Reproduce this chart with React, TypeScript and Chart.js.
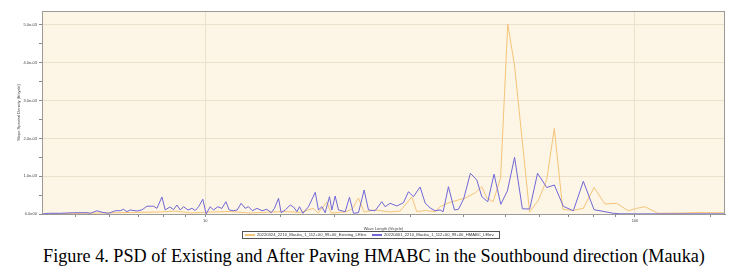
import React, { useEffect, useRef } from 'react';
import { Chart, registerables } from 'chart.js';
Chart.register(...registerables);

const existingLabel = '20220324_2210_Mauka_1_112+00_99+00_Existing_LElev.';
const hmabcLabel = '20220401_2210_Mauka_1_112+00_99+00_HMABC_LElev.';
const xTitle = 'Wave Length (ft/cycle)';
const yTitle = 'Slope Spectral Density (ft/cycle)';
const caption = 'Figure 4. PSD of Existing and After Paving HMABC in the Southbound direction (Mauka)';
const xTickLabels = [10, 100];
const yTickLabels = ['0.0e00', '1.0e-03', '2.0e-03', '3.0e-03', '4.0e-03', '5.0e-03'];

const hmabcWave = [
  4.17, 4.32, 4.6, 4.94, 5.31, 5.4, 5.6, 5.75, 5.96, 6.18,
  6.34, 6.46, 6.57, 6.69, 6.94, 7.13, 7.32, 7.58, 7.72, 7.93,
  8.07, 8.27, 8.44, 8.59, 8.75, 8.9, 9.12, 9.31, 9.48, 9.65,
  9.87, 10.05, 10.27, 10.45, 10.7, 10.93, 11.17, 11.37, 11.63, 11.87,
  12.12, 12.39, 12.61, 12.88, 13.19, 13.55, 13.91, 14.24, 14.49, 14.81,
  15.02, 15.35, 15.77, 16.05, 16.35, 16.57, 16.88, 17.39, 18.03, 18.34,
  18.68, 19.01, 19.46, 19.71, 20.06, 20.42, 21.17, 21.66, 22.13, 22.73,
  23.43, 23.98, 24.85, 25.76, 26.22, 26.93, 27.92, 28.93, 29.71, 30.51,
  31.62, 32.49, 33.37, 34.27, 35.2, 35.77, 36.81, 38.01, 38.83, 39.93,
  41.4, 42.85, 44.01, 45.45, 47.0, 48.72, 50.47, 52.46, 54.7, 56.9,
  59.33, 62.34, 64.92, 68.13, 71.87, 75.83, 80.31, 89.05, 92.28, 102.7,
  127.2, 161.9,
];
const hmabcPsd = [
  0, 0.19e-4, 0.19e-4, 0.34e-4, 0.34e-4, 0.19e-4, 0.85e-4, 0.45e-4, 0.19e-4, 0.87e-4,
  0.87e-4, 1.24e-4, 0.61e-4, 1.06e-4, 0.79e-4, 1.11e-4, 2.06e-4, 2.06e-4, 1.5e-4, 4.5e-4,
  1.06e-4, 1.85e-4, 1.19e-4, 2.38e-4, 1.06e-4, 1.93e-4, 1.06e-4, 1.5e-4, 0.93e-4, 1.93e-4,
  3.9e-4, 0, 1.93e-4, 1.06e-4, 1.93e-4, 1.46e-4, 3.25e-4, 1.06e-4, 0.87e-4, 1.06e-4,
  2.83e-4, 1.5e-4, 1.93e-4, 0.87e-4, 1.5e-4, 0.87e-4, 1.24e-4, 0.34e-4, 1.5e-4, 4.15e-4,
  0.34e-4, 1.06e-4, 2.38e-4, 1.85e-4, 0.61e-4, 1.93e-4, 0.19e-4, 1.93e-4, 5.74e-4, 1.06e-4,
  1.93e-4, 0.34e-4, 4.58e-4, 1.06e-4, 4.76e-4, 1.06e-4, 0.61e-4, 4.42e-4, 0.19e-4, 0.34e-4,
  6.35e-4, 1.06e-4, 0.87e-4, 3.25e-4, 1.93e-4, 2.83e-4, 2.12e-4, 2.99e-4, 5.9e-4, 4.58e-4,
  7.14e-4, 2.91e-4, 1.59e-4, 0.87e-4, 1.06e-4, 0.61e-4, 7.22e-4, 1.06e-4, 1.24e-4, 3.97e-4,
  10.77e-4, 9.0e-4, 4.58e-4, 3.25e-4, 10.53e-4, 2.57e-4, 6.08e-4, 15.0e-4, 1.38e-4, 1.32e-4,
  10.77e-4, 7.0e-4, 7.67e-4, 2.04e-4, 0.85e-4, 8.65e-4, 1.14e-4, 0.19e-4, 0.05e-4, 0.03e-4,
  0.04e-4, 0.03e-4,
];

const existingWave = [
  4.17, 4.85, 5.7, 6.69, 7.86, 8.51, 9.23, 10.27, 11.43, 12.73,
  14.16, 15.35, 16.64, 17.83, 18.32, 19.19, 19.63, 21.17, 21.98, 22.73,
  23.43, 24.85, 26.93, 28.41, 30.25, 31.07, 32.49, 34.27, 35.2, 36.74,
  38.76, 40.25, 42.46, 44.01, 45.2, 46.76, 48.67, 50.58, 52.46, 56.85,
  59.66, 62.34, 64.92, 67.91, 71.87, 75.83, 80.31, 85.16, 90.67, 96.47,
  100.9, 105.5, 113.1, 127.2, 141.6, 161.9,
];
const existingPsd = [
  0, 0.13e-4, 0.26e-4, 0.4e-4, 0.53e-4, 0.79e-4, 0.26e-4, 0.53e-4, 0.66e-4, 0.26e-4,
  0.53e-4, 0.66e-4, 0.4e-4, 1.5e-4, 0.26e-4, 3.17e-4, 0.26e-4, 0.53e-4, 1.32e-4, 4.23e-4,
  0.53e-4, 1.06e-4, 0.53e-4, 0.79e-4, 4.5e-4, 0.61e-4, 0.93e-4, 0.61e-4, 1.93e-4, 2.91e-4,
  3.7e-4, 4.23e-4, 5.56e-4, 7.22e-4, 4.23e-4, 3.25e-4, 9.5e-4, 50.26e-4, 39.15e-4, 0.5e-4,
  3.7e-4, 9.2e-4, 22.62e-4, 1.24e-4, 0.93e-4, 1.5e-4, 7.0e-4, 2.65e-4, 2.83e-4, 0.87e-4,
  1.5e-4, 1.93e-4, 0.19e-4, 0.26e-4, 0.4e-4, 0.3e-4,
];

const ORANGE = '#F5C57A';
const BLUE = '#7068D8';
const PLOT_BG = '#FDF5E5';
const GRID = '#ECE1CC';
const FONT = "'Liberation Sans', Arial, sans-serif";

const isXLabel = (v: number) => xTickLabels.some((t) => Math.abs(v - t) < 1e-6);

export default function App() {
  const ref = useRef<HTMLCanvasElement | null>(null);

  useEffect(() => {
    document.body.style.margin = '0';
    const canvas = ref.current;
    if (!canvas) return;

    const bgPlugin = {
      id: 'plotBg',
      beforeDraw(chart: any) {
        const { ctx, chartArea: a } = chart;
        ctx.save();
        ctx.fillStyle = PLOT_BG;
        ctx.fillRect(a.left, a.top, a.right - a.left, a.bottom - a.top);
        ctx.restore();
      },
      afterDatasetsDraw(chart: any) {
        const { ctx, chartArea: a } = chart;
        ctx.save();
        ctx.strokeStyle = '#9C9A96';
        ctx.lineWidth = 1;
        ctx.strokeRect(Math.round(a.left) + 0.5, Math.round(a.top) + 0.5, Math.round(a.right - a.left) - 1, Math.round(a.bottom - a.top));
        ctx.restore();
      },
    };

    const legendPlugin = {
      id: 'boxLegend',
      afterDraw(chart: any) {
        const { ctx } = chart;
        const x0 = 242, y0 = 231, w = 257, h = 7;
        ctx.save();
        ctx.fillStyle = '#FFFFFF';
        ctx.fillRect(x0, y0, w, h);
        ctx.strokeStyle = '#555';
        ctx.lineWidth = 1;
        ctx.strokeRect(x0 + 0.5, y0 + 0.5, w, h);
        ctx.font = `5px ${FONT}`;
        const m = ctx.measureText(existingLabel).width;
        const size = 5 * 110 / m;
        ctx.font = `${size}px ${FONT}`;
        ctx.textBaseline = 'middle';
        ctx.fillStyle = '#333';
        const cy = y0 + h / 2 + 0.5;
        ctx.lineWidth = 2;
        ctx.strokeStyle = ORANGE;
        ctx.beginPath(); ctx.moveTo(245, cy); ctx.lineTo(255, cy); ctx.stroke();
        ctx.fillText(existingLabel, 257, cy);
        ctx.strokeStyle = BLUE;
        ctx.beginPath(); ctx.moveTo(372, cy); ctx.lineTo(382, cy); ctx.stroke();
        ctx.fillText(hmabcLabel, 384, cy);
        ctx.restore();
      },
    };

    const chart = new Chart(canvas, {
      type: 'line',
      data: {
        datasets: [
          {
            label: existingLabel,
            data: existingWave.map((x, i) => ({ x, y: existingPsd[i] })),
            borderColor: ORANGE,
            borderWidth: 1,
            pointRadius: 0,
            tension: 0,
            fill: false,
            order: 2,
          },
          {
            label: hmabcLabel,
            data: hmabcWave.map((x, i) => ({ x, y: hmabcPsd[i] })),
            borderColor: BLUE,
            borderWidth: 1,
            pointRadius: 0,
            tension: 0,
            fill: false,
            order: 1,
          },
        ],
      },
      options: {
        animation: false,
        responsive: false,
        devicePixelRatio: 1,
        layout: { padding: { left: 0, right: 7, top: 11, bottom: 11 } },
        plugins: { legend: { display: false }, tooltip: { enabled: false } },
        scales: {
          x: {
            type: 'logarithmic',
            min: 4.17,
            max: 162,
            afterFit: (s: any) => { s.height = 17; },
            border: { color: '#8A8A8A' },
            grid: {
              color: (c: any) => (c.tick && isXLabel(c.tick.value) ? GRID : 'rgba(0,0,0,0)'),
              tickColor: (c: any) => (c.tick && (c.index === 0 || c.tick.value >= 162) ? 'rgba(0,0,0,0)' : '#8A8A8A'),
              tickLength: 3,
            },
            ticks: {
              autoSkip: false,
              maxRotation: 0,
              padding: 1,
              color: '#444',
              font: { size: 4, family: FONT },
              callback: (v: any) => (isXLabel(Number(v)) ? String(xTickLabels.find((t) => Math.abs(Number(v) - t) < 1e-6)) : ''),
            },
            title: {
              display: true,
              text: xTitle,
              color: '#444',
              font: { size: 4, family: FONT },
              padding: { top: 0, bottom: 0 },
            },
          },
          y: {
            type: 'linear',
            min: 0,
            max: 0.00537,
            afterFit: (s: any) => { s.width = 42; },
            border: { color: '#8A8A8A' },
            grid: {
              color: (c: any) => {
                const k = c.tick ? c.tick.value / 0.001 : 0.5;
                return Math.abs(k - Math.round(k)) < 1e-6 && k > 0 ? GRID : 'rgba(0,0,0,0)';
              },
              tickColor: '#8A8A8A',
              tickLength: 3,
            },
            ticks: {
              stepSize: 0.0005,
              includeBounds: false,
              autoSkip: false,
              padding: 2,
              color: '#444',
              font: { size: 4, family: FONT },
              callback: (v: any) => {
                const k = Number(v) / 0.001;
                const r = Math.round(k);
                return Math.abs(k - r) < 1e-6 ? yTickLabels[r] ?? '' : '';
              },
            },
            title: {
              display: true,
              text: yTitle,
              color: '#444',
              font: { size: 4, family: FONT },
              padding: { top: 16, bottom: 0 },
            },
          },
        },
      },
      plugins: [bgPlugin, legendPlugin],
    } as any);

    return () => chart.destroy();
  }, []);

  return (
    <div style={{ position: 'absolute', left: 0, top: 0, width: 732, height: 272, background: '#fff' }}>
      <canvas ref={ref} width={732} height={242} style={{ display: 'block' }} />
      <div
        style={{
          position: 'absolute',
          left: 8,
          top: 245,
          width: 732,
          height: 22,
          lineHeight: '22px',
          textAlign: 'center',
          fontFamily: "'Liberation Serif', 'Times New Roman', serif",
          fontSize: 18.2,
          color: '#000',
          whiteSpace: 'nowrap',
        }}
      >
        {caption}
      </div>
    </div>
  );
}
